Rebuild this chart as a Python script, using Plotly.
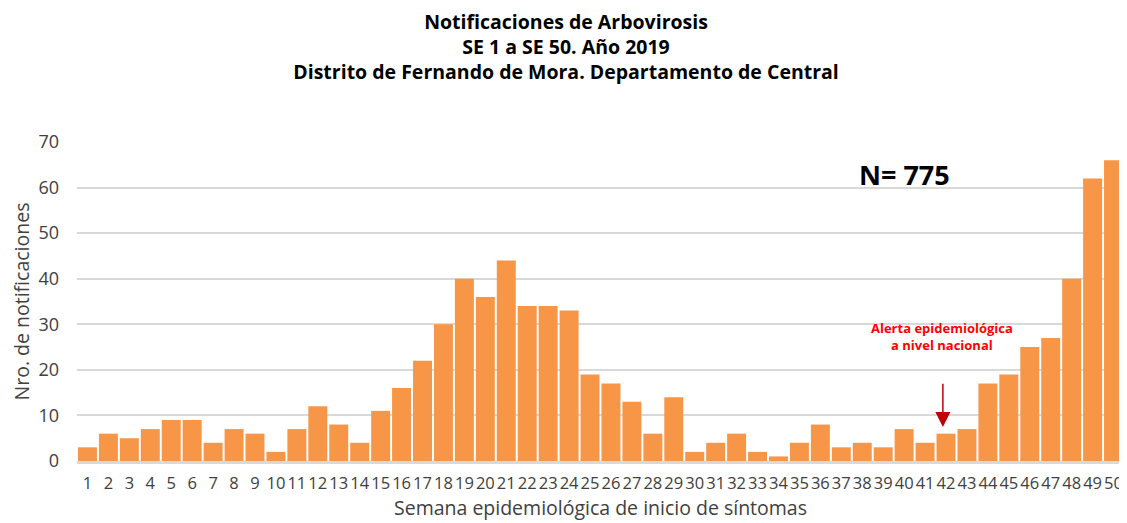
import plotly.graph_objects as go

semanas = [str(i) for i in range(1, 51)]
notificaciones = [3, 6, 5, 7, 9, 9, 4, 7, 6, 2,
                  7, 12, 8, 4, 11, 16, 22, 30, 40, 36,
                  44, 34, 34, 33, 19, 17, 13, 6, 14, 2,
                  4, 6, 2, 1, 4, 8, 3, 4, 3, 7,
                  4, 6, 7, 17, 19, 25, 27, 40, 62, 66]
y_ticks = [0, 10, 20, 30, 40, 50, 60, 70]

FONT = "Open Sans"
TXT = "#404040"

fig = go.Figure()
fig.add_trace(go.Bar(
    x=semanas, y=notificaciones,
    marker=dict(color="#F79646", line=dict(width=0)),
    hoverinfo="x+y",
))

fig.update_layout(
    width=1119, height=515,
    paper_bgcolor="white", plot_bgcolor="white",
    margin=dict(l=69, r=3, t=134, b=62, pad=0),
    bargap=0.095,
    showlegend=False,
    font=dict(family=FONT, color=TXT),
    title=dict(
        text="<b>Notificaciones de Arbovirosis<br>SE 1 a SE 50. Año 2019<br>Distrito de Fernando de Mora. Departamento de Central</b>",
        x=0.4987, xanchor="center", y=1 - 20.6 / 515, yanchor="top", yref="container",
        font=dict(family=FONT, size=19.5, color="#000000"),
    ),
    xaxis=dict(
        type="category", automargin=False,
        tickangle=0,
        tickfont=dict(size=16.5, color=TXT),
        showline=True, linecolor="#d9d9d9", linewidth=2.5,
        ticks="", showgrid=False, ticklabelstandoff=5,
    ),
    yaxis=dict(
        range=[0, 70], tickvals=y_ticks, automargin=False,
        tickfont=dict(size=18, color=TXT),
        showgrid=True, gridcolor="#d9d9d9", gridwidth=1.5,
        zeroline=False, ticks="", ticklabelstandoff=17,
        title=dict(text="Nro. de notificaciones",
                   font=dict(size=19.5, color=TXT), standoff=7),
    ),
)

fig.add_annotation(
    x=0.5, y=0, xref="paper", yref="paper", yshift=-46,
    xanchor="center", yanchor="middle", showarrow=False,
    text="Semana epidemiológica de inicio de síntomas",
    font=dict(family=FONT, size=19.5, color=TXT),
)
fig.add_annotation(
    x=40.85, y=7.46, ax=40.85, ay=17.3, axref="x", ayref="y",
    xref="x", yref="y", text="", showarrow=True,
    arrowhead=2, arrowsize=2, arrowwidth=1.5, arrowcolor="#C00000",
)
fig.add_annotation(
    x=40.8, y=27.4, xref="x", yref="y",
    text="<b>Alerta epidemiológica<br>a nivel nacional</b>",
    showarrow=False, font=dict(family=FONT, size=13, color="#FF0000"),
    align="center",
)
fig.add_annotation(
    x=39.0, y=62.8, xref="x", yref="y",
    text="<b>N= 775</b>", showarrow=False,
    font=dict(family=FONT, size=27, color="#000000"),
)

fig.write_html("out.html")
